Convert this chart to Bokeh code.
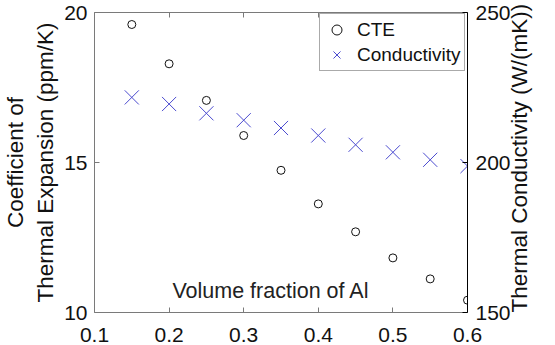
import math
from bokeh.plotting import figure
from bokeh.models import (Range1d, LinearAxis, FixedTicker, Legend, LegendItem,
                          Label, ColumnDataSource)
from bokeh.embed import file_html
from bokeh.resources import INLINE

# ---- data ----
volume_fraction = [0.15, 0.20, 0.25, 0.30, 0.35, 0.40, 0.45, 0.50, 0.55, 0.60]
cte = [19.60, 18.29, 17.07, 15.90, 14.74, 13.62, 12.69, 11.82, 11.12, 10.41]
conductivity = [221.7, 219.5, 216.4, 214.1, 211.5, 209.0, 205.9, 203.4, 200.9, 198.8]
x_ticks = [0.1, 0.2, 0.3, 0.4, 0.5, 0.6]
cte_ticks = [10, 15, 20]
k_ticks = [150, 200, 250]

FONT = "Liberation Sans"
FS = "21px"
LFS = "22.5px"

p = figure(width=547, height=354,
           x_range=Range1d(0.1, 0.6), y_range=Range1d(10, 20),
           output_backend="svg", toolbar_location=None,
           min_border_left=89, min_border_right=76,
           min_border_top=12, min_border_bottom=42)
p.extra_y_ranges = {"k": Range1d(150, 250)}
p.grid.visible = False
p.outline_line_color = None
p.background_fill_color = "white"
p.border_fill_color = "white"


def style(ax, color="#7a7a7a", standoff=7):
    ax.major_tick_in = 5
    ax.major_tick_out = 0
    ax.minor_tick_line_color = None
    ax.axis_line_color = color
    ax.major_tick_line_color = color
    ax.axis_line_width = 1
    ax.major_label_text_font = FONT
    ax.major_label_text_font_size = FS
    ax.major_label_text_color = "#111111"
    ax.major_label_standoff = standoff
    ax.axis_label_text_font = FONT
    ax.axis_label_text_font_size = LFS
    ax.axis_label_text_font_style = "normal"
    ax.axis_label_text_color = "#111111"


xa = p.xaxis[0]
xa.ticker = FixedTicker(ticks=x_ticks)
style(xa, standoff=15)

ya = p.yaxis[0]
ya.ticker = FixedTicker(ticks=cte_ticks)
style(ya, standoff=7)
ya.axis_label = "Coefficient of\nThermal Expansion (ppm/K)"
ya.axis_label_standoff = 3

ra = LinearAxis(y_range_name="k", ticker=FixedTicker(ticks=k_ticks))
style(ra, color="#000000", standoff=8)
ra.axis_label = "Thermal Conductivity (W/(mK))"
ra.axis_label_standoff = 6
try:
    ra.axis_label_orientation = math.pi / 2
except Exception:
    pass
for _al in ("start", "left"):
    try:
        ra.axis_label_align = _al
        break
    except Exception:
        pass
p.add_layout(ra, "right")

ta = LinearAxis(ticker=FixedTicker(ticks=x_ticks))
style(ta)
ta.major_label_text_font_size = "1px"
ta.major_label_text_color = None
ta.major_label_standoff = 0
p.add_layout(ta, "above")

src = ColumnDataSource(dict(x=volume_fraction, cte=cte, k=conductivity))
r1 = p.scatter("x", "cte", source=src, marker="circle", size=8,
               fill_color=None, line_color="#111111", line_width=1)
r2 = p.scatter("x", "k", source=src, marker="x", size=20,
               line_color="#4b4bd0", line_width=1, y_range_name="k")

legend = Legend(items=[LegendItem(label="CTE", renderers=[r1]),
                       LegendItem(label="Conductivity", renderers=[r2])],
                location=(225, 241), padding=3, spacing=0, margin=0,
                glyph_width=27, glyph_height=25, label_height=25,
                label_standoff=7, label_text_font=FONT,
                label_text_font_size="19px", label_text_color="#111111",
                border_line_color="#555555", border_line_width=1,
                background_fill_color="white", background_fill_alpha=1)
p.add_layout(legend)

p.add_layout(Label(x=0.3366, y=10.72, text="Volume fraction of Al",
                   text_align="center", text_baseline="middle",
                   text_font=FONT, text_font_size="21.5px", text_color="#222222"))

open("out.html", "w").write(file_html(p, INLINE))
